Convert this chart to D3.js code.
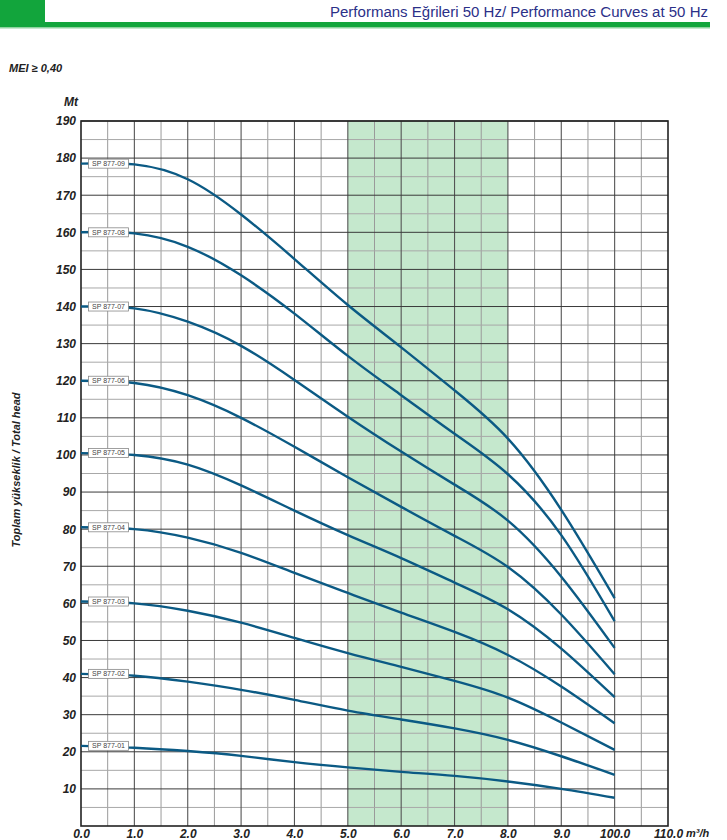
<!DOCTYPE html>
<html>
<head>
<meta charset="utf-8">
<script src="https://cdn.jsdelivr.net/npm/d3@7"></script>
<style>
  body { margin: 0; background: #fff; }
  text { font-family: "Liberation Sans", Arial, sans-serif; }
</style>
</head>
<body>
<script>
// flow points (m3/h positions on the axis) and head values per pump
var flowPoints = [0, 1, 2, 3, 4, 5, 6, 7, 8, 9, 10];
var xTickLabels = ["0.0", "1.0", "2.0", "3.0", "4.0", "5.0", "6.0", "7.0", "8.0", "9.0", "100.0", "110.0"];
var yTicks = [10, 20, 30, 40, 50, 60, 70, 80, 90, 100, 110, 120, 130, 140, 150, 160, 170, 180, 190];

var pumpNames = ["SP 877-01", "SP 877-02", "SP 877-03", "SP 877-04", "SP 877-05",
                 "SP 877-06", "SP 877-07", "SP 877-08", "SP 877-09"];

var head01 = [21.6, 21.1, 20.2, 18.9, 17.2, 15.8, 14.6, 13.5, 12.0, 10.0, 7.6];
var head02 = [41.0, 40.5, 38.9, 36.7, 34.0, 31.1, 28.7, 26.3, 23.2, 18.8, 13.8];
var head03 = [60.5, 60.0, 58.0, 54.8, 50.7, 46.6, 42.9, 39.1, 34.6, 27.9, 20.5];
var head04 = [80.5, 80.0, 77.7, 73.6, 68.2, 62.8, 57.5, 52.3, 46.1, 37.6, 27.7];
var head05 = [100.5, 100.0, 97.4, 91.8, 85.0, 78.4, 72.2, 65.6, 58.4, 47.8, 34.7];
var head06 = [120.0, 119.4, 116.1, 110.0, 102.2, 94.0, 86.0, 78.2, 69.8, 57.0, 40.9];
var head07 = [140.0, 139.5, 135.9, 129.4, 120.2, 110.3, 100.9, 92.0, 82.3, 67.2, 48.0];
var head08 = [160.0, 159.7, 156.1, 148.4, 138.1, 126.7, 116.1, 105.7, 94.8, 78.4, 55.2];
var head09 = [178.5, 178.3, 174.3, 164.8, 152.8, 140.4, 129.0, 117.4, 104.4, 85.2, 61.4];

var heads = [head01, head02, head03, head04, head05, head06, head07, head08, head09];

// recommended working range (shaded band)
var bandRange = [5, 8];

var svgWidth = 727;
var svgHeight = 840;

var svg = d3.select("body")
    .append("svg")
    .attr("width", svgWidth)
    .attr("height", svgHeight);

// header bar
svg.append("rect").attr("x", 0).attr("y", 0).attr("width", 45).attr("height", 27).attr("fill", "#12a53c");
svg.append("rect").attr("x", 0).attr("y", 22).attr("width", 710).attr("height", 5).attr("fill", "#12a53c");
svg.append("rect").attr("x", 0).attr("y", 27).attr("width", 710).attr("height", 1.5).attr("fill", "#8fd3a0");

svg.append("text")
    .attr("x", 708)
    .attr("y", 17)
    .attr("text-anchor", "end")
    .attr("font-size", 14)
    .attr("fill", "#2b3088")
    .attr("textLength", 378)
    .attr("lengthAdjust", "spacingAndGlyphs")
    .text("Performans Eğrileri 50 Hz/ Performance Curves at 50 Hz");

svg.append("text")
    .attr("x", 9)
    .attr("y", 72)
    .attr("font-size", 11)
    .attr("font-weight", "bold")
    .attr("font-style", "italic")
    .attr("fill", "#222")
    .text("MEI ≥ 0,40");

var plotLeft = 81, plotRight = 668, plotTop = 121, plotBottom = 826;

var x = d3.scaleLinear().domain([0, 11]).range([plotLeft, plotRight]);
var y = d3.scaleLinear().domain([0, 190]).range([plotBottom, plotTop]);

var chart = svg.append("g");

// shaded band
chart.append("rect")
    .attr("x", x(bandRange[0]))
    .attr("y", plotTop)
    .attr("width", x(bandRange[1]) - x(bandRange[0]))
    .attr("height", plotBottom - plotTop)
    .attr("fill", "#c5e8cd");

// grid lines
var minorX = d3.range(0.5, 11, 1);
var majorX = d3.range(1, 11, 1);
var minorY = d3.range(5, 190, 10);

chart.selectAll(".gxm").data(minorX).enter().append("line")
    .attr("x1", d => x(d)).attr("x2", d => x(d))
    .attr("y1", plotTop).attr("y2", plotBottom)
    .attr("stroke", "#9a9a9a").attr("stroke-width", 1);

chart.selectAll(".gym").data(minorY).enter().append("line")
    .attr("x1", plotLeft).attr("x2", plotRight)
    .attr("y1", d => y(d)).attr("y2", d => y(d))
    .attr("stroke", "#a8a8a8").attr("stroke-width", 1);

chart.selectAll(".gx").data(majorX).enter().append("line")
    .attr("x1", d => x(d)).attr("x2", d => x(d))
    .attr("y1", plotTop).attr("y2", plotBottom)
    .attr("stroke", "#555").attr("stroke-width", 1.1);

chart.selectAll(".gy").data(yTicks).enter().append("line")
    .attr("x1", plotLeft).attr("x2", plotRight)
    .attr("y1", d => y(d)).attr("y2", d => y(d))
    .attr("stroke", "#3a3a3a").attr("stroke-width", 1);

// frame
chart.append("rect")
    .attr("x", plotLeft).attr("y", plotTop)
    .attr("width", plotRight - plotLeft).attr("height", plotBottom - plotTop)
    .attr("fill", "none").attr("stroke", "#222").attr("stroke-width", 1.6);

// axes (labels only, lines are the grid/frame)
var leftAxis = d3.axisLeft(y).tickValues(yTicks).tickSize(0).tickPadding(5).tickFormat(d3.format("d"));
var bottomAxis = d3.axisBottom(x).tickValues(d3.range(0, 12)).tickSize(0).tickPadding(3)
    .tickFormat((d, i) => xTickLabels[i]);

var gl = svg.append("g").attr("transform", `translate(${plotLeft},0)`).call(leftAxis);
var gb = svg.append("g").attr("transform", `translate(0,${plotBottom})`).call(bottomAxis);
[gl, gb].forEach(function (g) {
  g.select(".domain").remove();
  g.selectAll("text")
      .attr("font-family", "'Liberation Sans', Arial, sans-serif")
      .attr("font-size", 12)
      .attr("font-weight", "bold")
      .attr("font-style", "italic")
      .attr("fill", "#222");
});

svg.append("text")
    .attr("x", 686).attr("y", 837)
    .attr("font-size", 11).attr("font-weight", "bold").attr("font-style", "italic")
    .attr("fill", "#222")
    .text("m³/h");

svg.append("text")
    .attr("x", 78).attr("y", 106)
    .attr("text-anchor", "end")
    .attr("font-size", 12).attr("font-weight", "bold").attr("font-style", "italic")
    .attr("fill", "#222")
    .text("Mt");

svg.append("text")
    .attr("transform", "translate(20,470) rotate(-90)")
    .attr("text-anchor", "middle")
    .attr("font-size", 11).attr("font-weight", "bold").attr("font-style", "italic")
    .attr("fill", "#222")
    .text("Toplam yükseklik / Total head");

// curves
var line = d3.line()
    .x((d, i) => x(flowPoints[i]))
    .y(d => y(d))
    .curve(d3.curveNatural);

chart.selectAll(".curve").data(heads).enter().append("path")
    .attr("d", line)
    .attr("fill", "none")
    .attr("stroke", "#0b5a84")
    .attr("stroke-width", 2.4);

// pump labels
var labels = chart.selectAll(".lbl").data(pumpNames).enter().append("g")
    .attr("transform", (d, i) => `translate(${x(0.14)},${y(heads[i][0])})`);

labels.append("rect")
    .attr("x", 0).attr("y", -4.5)
    .attr("width", 40).attr("height", 9)
    .attr("fill", "#fff")
    .attr("stroke", "#888").attr("stroke-width", 0.8);

labels.append("text")
    .attr("x", 20).attr("y", 2.4)
    .attr("text-anchor", "middle")
    .attr("font-size", 7)
    .attr("fill", "#444")
    .text(d => d);
</script>
</body>
</html>
